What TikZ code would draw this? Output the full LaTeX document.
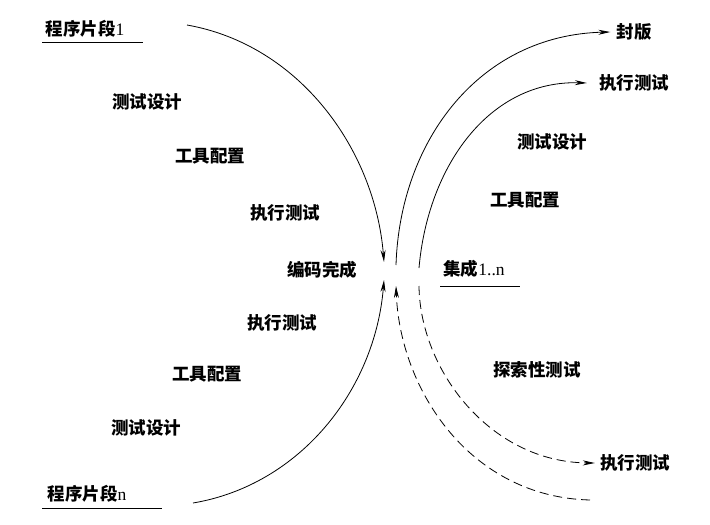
\documentclass[tikz,border=0pt]{standalone}
\usepackage{fontspec}
\setmainfont{Liberation Serif}
\newfontfamily\cjk{Noto Sans CJK SC}
\usetikzlibrary{arrows.meta}
\tikzset{flow/.style={-{Stealth[length=12pt,width=5pt]}, line width=0.8pt},
  dflow/.style={flow, dash pattern=on 9pt off 5pt},
  lbl/.style={font=\fontsize{17.5}{20}\selectfont\cjk\bfseries, inner sep=1pt},
  uline/.style={line width=1pt}}

\begin{document}
\begin{tikzpicture}[x=1pt, y=-1pt]
  \useasboundingbox (0,0) rectangle (710,525);
  % left side
  \node[lbl] (seg1) at (85,29) {程序片段\textnormal{1}};
  \node[lbl] (segn) at (87,494) {程序片段\textnormal{n}};
  \node[lbl] (des1) at (147,102) {测试设计};
  \node[lbl] (cfg1) at (210,156) {工具配置};
  \node[lbl] (run1) at (285,213) {执行测试};
  \node[lbl] (done) at (322,270) {编码完成};
  \node[lbl] (run2) at (282,323) {执行测试};
  \node[lbl] (cfg2) at (207,374) {工具配置};
  \node[lbl] (des2) at (146,428) {测试设计};
  % right side
  \node[lbl] (fb) at (634,32) {封版};
  \node[lbl] (run3) at (634,83) {执行测试};
  \node[lbl] (des3) at (552,142) {测试设计};
  \node[lbl] (cfg3) at (525,200) {工具配置};
  \node[lbl] (intg) at (474,269) {集成\textnormal{1..n}};
  \node[lbl] (expl) at (537,370) {探索性测试};
  \node[lbl] (run4) at (635,463) {执行测试};
  \draw[uline] (42,42) -- (143,42);
  \draw[uline] (42,508) -- (162,508);
  \draw[uline] (440,286) -- (520,286);
  % curve ends
  \coordinate (a0) at (187,25);
  \coordinate (a1) at (384,262);
  \coordinate (b0) at (193,503);
  \coordinate (b1) at (384,280);
  \coordinate (c0) at (396,265);
  \coordinate (d0) at (419,268);
  \coordinate (e0) at (590,500);
  \coordinate (e1) at (396,286);
  \coordinate (f0) at (419,286);
  \draw[flow] (a0) .. controls (300,45) and (375,150) .. (a1);
  \draw[flow] (b0) .. controls (300,485) and (375,390) .. (b1);
  \draw[flow] (c0) .. controls (400,140) and (480,35) .. ([xshift=-5pt]fb.west);
  \draw[flow] (d0) .. controls (428,165) and (490,80) .. ([xshift=-11pt]run3.west);
  \draw[dflow] (e0) .. controls (470,497) and (400,390) .. (e1);
  \draw[dflow] (f0) .. controls (420,370) and (490,462) .. ([xshift=-4pt]run4.west);
\end{tikzpicture}
\end{document}
